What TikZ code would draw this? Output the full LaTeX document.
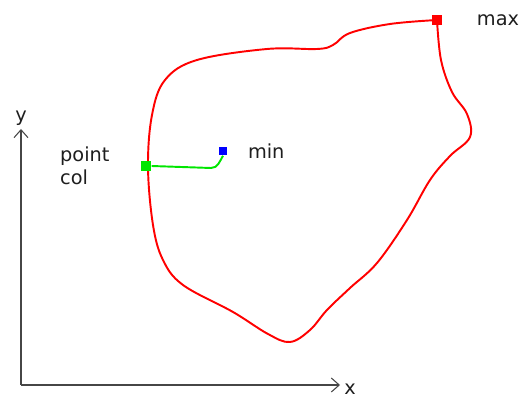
\documentclass[tikz,border=0pt]{standalone}
\usepackage{fontspec}
\setmainfont{DejaVu Sans}
\usepackage{tikz}
\usetikzlibrary{arrows.meta,positioning}
\definecolor{myred}{RGB}{255,0,0}
\definecolor{mygreen}{RGB}{0,230,0}
\definecolor{myblue}{RGB}{0,0,255}
\definecolor{myaxis}{RGB}{70,70,70}
\definecolor{mytext}{RGB}{30,30,30}

\begin{document}
\begin{tikzpicture}[x=0.02cm, y=-0.02cm,
  axis/.style={myaxis, line width=0.7pt,
               -{Straight Barb[length=4.5pt, width=8pt, line width=0.6pt]}},
  pt/.style={rectangle, minimum size=6pt, inner sep=0pt},
  lbl/.style={text=mytext, font=\fontsize{11}{13}\selectfont},
  border/.style={myred, line width=1.1pt, line join=round}
]
  \useasboundingbox (0,0) rectangle (521,398);

  % axes
  \coordinate (origin) at (21,385);
  \coordinate (xend) at (340,385);
  \coordinate (yend) at (21,129);
  \draw[axis](origin)--(xend);
  \draw[axis](origin)--(yend);
  \node[lbl, inner sep=1pt](xlbl) at (350,389){x};
  \node[lbl](ylbl) at (21,118){y};

  % region border
  \draw[border] plot[smooth, tension=0.6] coordinates {
    (437,20) (441,60) (452,92) (467,114) (470,137) (450,156)
    (430,180) (407,220) (377,263) (350,288) (327,310) (310,330)
    (290,342) (268,334) (233,312) (183,285) (163,260) (153,225)
    (148,167) (152,115) (165,80) (197,60) (267,49) (317,49)
    (333,45) (350,33) (390,24) (437,20)};

  \node[pt, fill=myred](max) at (437,20){};
  \node[pt, fill=mygreen](col) at (146,166){};
  \node[pt, fill=myblue, minimum size=5pt](min) at (223,151){};

  \node[lbl, right=16pt of max](maxlbl){max};
  \node[lbl, right=8pt of min](minlbl){min};
  \node[lbl, align=left, anchor=west](collbl) at (54,166){point\\col};

  \coordinate (bend) at (211,168);
  \draw[mygreen, line width=1.1pt](col.east)--(bend)
    to[out=0, in=240](min.south);
\end{tikzpicture}
\end{document}
